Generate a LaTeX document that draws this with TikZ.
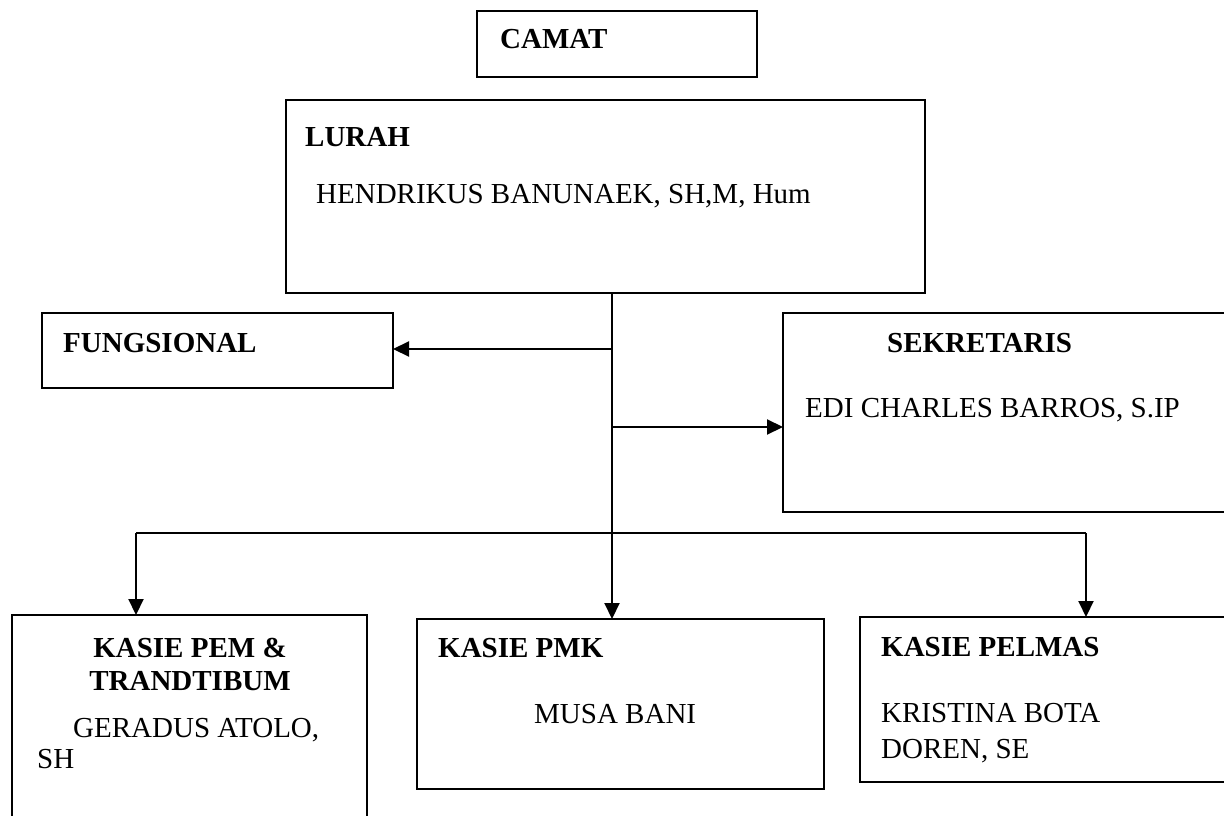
\documentclass[tikz,border=0pt]{standalone}
\usepackage{fontspec}
\setmainfont{Liberation Serif}
\usetikzlibrary{arrows.meta}
\begin{document}
\begin{tikzpicture}[x=1pt,y=-1pt,
  box/.style={draw, line width=1.9pt, inner sep=0pt, outer sep=0pt, anchor=north west},
  lbl/.style={inner sep=0pt, anchor=base west, font=\fontsize{29}{34}\selectfont},
  blbl/.style={lbl, font=\fontsize{29}{34}\selectfont\bfseries},
  wire/.style={line width=2.1pt},
  conn/.style={wire, -{Triangle[length=16pt,width=15pt]}}]
\useasboundingbox (0,0) rectangle (1224,816);
\begin{scope}
\clip (0,0) rectangle (1224,816);
% boxes
\node[box, minimum width=280pt, minimum height=66pt] (camat) at (477,11) {};
\node[box, minimum width=639pt, minimum height=193pt] (lurah) at (286,100) {};
\node[box, minimum width=351pt, minimum height=75pt] (fung) at (42,313) {};
\node[box, minimum width=450pt, minimum height=199pt] (sek) at (783,313) {};
\node[box, minimum width=355pt, minimum height=220pt] (pem) at (12,615) {};
\node[box, minimum width=407pt, minimum height=170pt] (pmk) at (417,619) {};
\node[box, minimum width=375pt, minimum height=165pt] (pel) at (860,617) {};
% texts
\node[blbl] (tcamat) at (500,49) {CAMAT};
\node[blbl] (tlurah) at (305,146) {LURAH};
\node[lbl] (nlurah) at (316,203) {HENDRIKUS BANUNAEK, SH,M, Hum};
\node[blbl] (tfung) at (63,352) {FUNGSIONAL};
\node[blbl] (tsek) at (887,352) {SEKRETARIS};
\node[lbl] (nsek) at (805,417) {EDI CHARLES BARROS, S.IP};
\node[blbl, anchor=base] (tpem1) at (190,657) {KASIE PEM \&};
\node[blbl, anchor=base] (tpem2) at (190,690) {TRANDTIBUM};
\node[lbl] (npem1) at (73,737) {GERADUS ATOLO,};
\node[lbl] (npem2) at (37,768) {SH};
\node[blbl] (tpmk) at (438,657) {KASIE PMK};
\node[lbl] (npmk) at (534,723) {MUSA BANI};
\node[blbl] (tpel) at (881,656) {KASIE PELMAS};
\node[lbl] (npel1) at (881,722) {KRISTINA BOTA};
\node[lbl] (npel2) at (881,758) {DOREN, SE};
% connectors
\coordinate (trunk) at (612,293);
\coordinate (jf) at (612,349);
\coordinate (js) at (612,427);
\coordinate (bl) at (136,533);
\coordinate (br) at (1086,533);
\draw[conn] (lurah.south -| trunk) -- (pmk.north -| trunk);
\draw[conn] (jf) -- (jf -| fung.east);
\draw[conn] (js) -- (js -| sek.west);
\draw[wire] (bl) -- (br);
\draw[conn] (bl) -- (bl |- pem.north);
\draw[conn] (br) -- (br |- pel.north);
\end{scope}
\end{tikzpicture}
\end{document}
